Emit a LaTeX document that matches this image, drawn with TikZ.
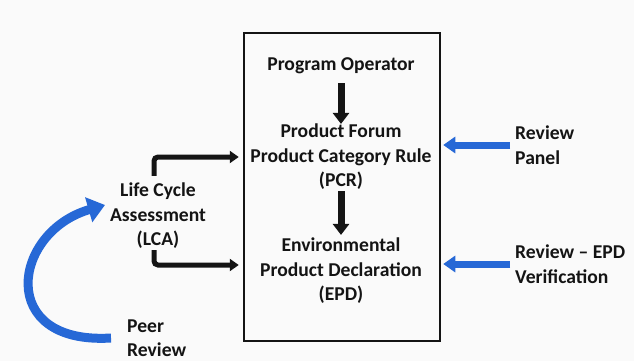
\documentclass[tikz,border=0pt]{standalone}
\usepackage{fontspec}
\setmainfont{Carlito}
\usetikzlibrary{arrows.meta}
\definecolor{revblue}{RGB}{38,104,214}
\definecolor{ink}{RGB}{20,20,20}

\begin{document}
\begin{tikzpicture}[x=1pt,y=-1pt,
  lbl/.style={font=\fontsize{19.6}{24.5}\selectfont\bfseries,text=ink,align=center,inner sep=0pt},
  dnarrow/.style={draw=ink,line width=7pt,-{Triangle[width=16pt,length=11pt]}},
  elbarrow/.style={draw=ink,line width=5pt,rounded corners=4pt,-{Triangle[width=12pt,length=9pt]}},
  bluarrow/.style={draw=revblue,line width=7pt,-{Triangle[width=16pt,length=12pt]}}]
\useasboundingbox[fill=gray!4] (0,0) rectangle (634,361);

\node[draw=ink,line width=2.5pt,minimum width=196pt,minimum height=308pt,inner sep=0pt] (frame) at (342,187) {};

\node[lbl] (op) at (341,66) {Program Operator};
\node[lbl] (pcr) at (341,157) {Product Forum\\Product Category Rule\\(PCR)};
\node[lbl] (epd) at (341,271) {Environmental\\Product Declaration\\(EPD)};
\node[lbl] (lca) at (158,216) {Life Cycle\\Assessment\\(LCA)};
\node[lbl,align=left,anchor=west] (panel) at (515,145) {Review\\Panel};
\node[lbl,align=left,anchor=west] (verif) at (515,264) {Review -- EPD\\Verification};
\node[lbl,align=left,anchor=west] (peer) at (127,338) {Peer\\Review};
\coordinate (lcain) at (105,205);

% inside the frame
\draw[dnarrow,shorten <=9pt] (op.south) -- (pcr.north);
\draw[dnarrow,shorten <=1pt,shorten >=3pt] (pcr.south) -- (epd.north);

% lca into the frame
\draw[elbarrow,shorten >=4pt] ([xshift=-4pt,yshift=7pt]lca.north) |- (frame.west |- pcr);
\draw[elbarrow,shorten >=4pt] ([xshift=-4pt,yshift=-1pt]lca.south) |- ([yshift=6pt]frame.west |- epd);

% reviews
\draw[bluarrow,shorten <=5pt,shorten >=2pt] (panel.west) -- (frame.east |- panel);
\draw[bluarrow,shorten <=5pt,shorten >=2pt] (verif.west) -- (frame.east |- verif);
\draw[draw=revblue,line width=9pt,-{Triangle[width=25pt,length=17pt]}] ([xshift=-16pt]peer.west) .. controls (-4,345) and (12,232) .. (lcain);
\end{tikzpicture}
\end{document}
